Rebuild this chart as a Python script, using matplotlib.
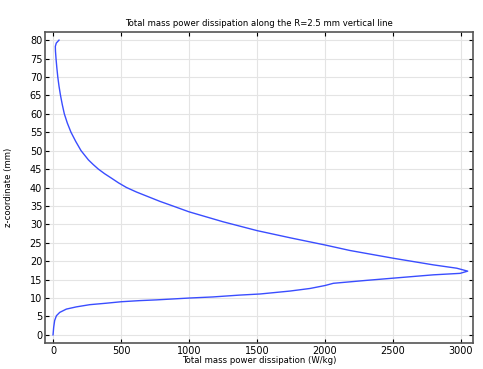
import matplotlib
matplotlib.use("Agg")
import matplotlib.pyplot as plt

# Total mass power dissipation (W/kg) vs z-coordinate (mm)
# (the line goes up from z=0, through the peak near z=17, and back to z=80)
power = [0, 5, 12, 25, 49, 98, 171, 270, 392, 502, 637, 760, 1000, 1176, 1372, 1522,
         1743, 1890, 2000, 2061, 2306, 2502, 2797, 2993, 3049,
         2968, 2797, 2502, 2184, 2000, 1750, 1500, 1250, 1000, 880, 785, 700, 615, 540, 482,
         431, 379, 333, 295, 260, 233, 206, 167, 132, 105, 83, 68, 55, 44, 35, 28, 22, 18, 17, 24, 44]
z = [0, 2.1, 3.9, 5.2, 6.1, 7.0, 7.6, 8.2, 8.6, 9.0, 9.3, 9.5, 10.0, 10.3, 10.8, 11.1,
     11.9, 12.6, 13.4, 14.0, 14.8, 15.4, 16.3, 16.7, 17.3,
     18.1, 19.0, 20.8, 22.9, 24.4, 26.3, 28.3, 30.7, 33.4, 35.0, 36.25, 37.5, 38.75, 40.0, 41.25,
     42.5, 43.75, 45.0, 46.25, 47.5, 48.75, 50.0, 52.5, 55.0, 57.5, 60.0, 62.5, 65.0, 67.5, 70.0,
     72.5, 75.0, 77.0, 78.3, 79.2, 80.0]

xticks = [0, 500, 1000, 1500, 2000, 2500, 3000]
yticks = list(range(0, 81, 5))

fig = plt.figure(figsize=(4.83, 3.69), dpi=100)
ax = fig.add_axes([45 / 483, 26 / 369, 428 / 483, 311 / 369])
ax.plot(power, z, color="#3a4dff", lw=1.0)

ax.set_xlim(-59, 3088)
ax.set_ylim(-2.2, 82.2)
ax.set_xticks(xticks)
ax.set_yticks(yticks)
ax.grid(True, color="#e4e4e4", lw=0.8)
ax.tick_params(direction="in", top=True, right=True, labelsize=7, length=3, pad=2)
for s in ax.spines.values():
    s.set_color("#555555")
    s.set_linewidth(1.2)

ax.set_title("Total mass power dissipation along the R=2.5 mm vertical line", fontsize=6.1, pad=4)
ax.set_xlabel("Total mass power dissipation (W/kg)", fontsize=6.1, labelpad=0)
ax.set_ylabel("z-coordinate (mm)", fontsize=6.1, labelpad=12)

fig.savefig("out.png", dpi=100)
